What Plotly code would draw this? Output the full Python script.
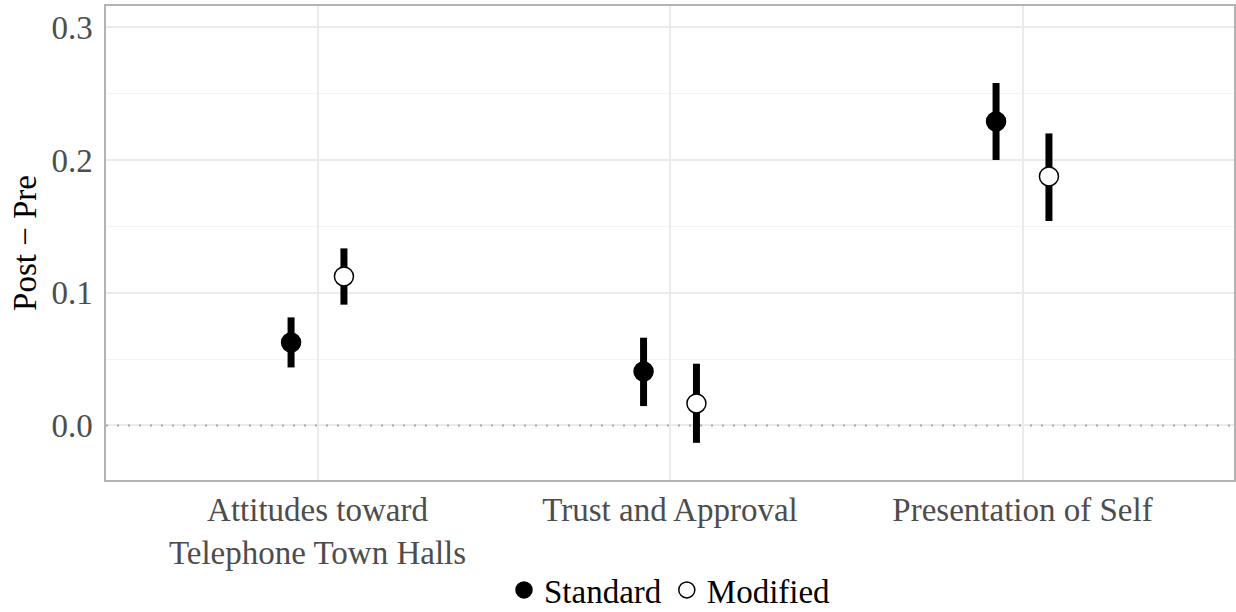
import plotly.graph_objects as go

categories = ["Attitudes toward<br>Telephone Town Halls", "Trust and Approval", "Presentation of Self"]
series_names = ["Standard", "Modified"]
standard_est = [0.0625, 0.0407, 0.229]
standard_lo = [0.0437, 0.0146, 0.200]
standard_hi = [0.0814, 0.0661, 0.258]
modified_est = [0.1123, 0.0166, 0.1876]
modified_lo = [0.0910, -0.0131, 0.154]
modified_hi = [0.1334, 0.0465, 0.220]
y_ticks = [0.0, 0.1, 0.2, 0.3]
x_range = [0.4, 3.6]

FONT = "Liberation Serif, Times New Roman, serif"
FS = 33
pos = list(range(1, len(categories) + 1))
dodge = 0.075

fig = go.Figure()
# dotted reference line at zero (drawn first, beneath the points)
fig.add_trace(go.Scatter(
    x=x_range, y=[0, 0], mode="lines", showlegend=False, hoverinfo="skip",
    line=dict(color="#a8a8a8", width=2, dash="2px,9px"),
))
specs = [
    (series_names[0], standard_est, standard_lo, standard_hi, -dodge, "black"),
    (series_names[1], modified_est, modified_lo, modified_hi, dodge, "white"),
]
for name, est, lo, hi, off, fill in specs:
    fig.add_trace(go.Scatter(
        x=[p + off for p in pos], y=est, mode="markers", name=name,
        marker=dict(size=19, color=fill, line=dict(color="black", width=1.5)),
        error_y=dict(type="data", symmetric=False,
                     array=[h - e for h, e in zip(hi, est)],
                     arrayminus=[e - l for e, l in zip(est, lo)],
                     thickness=7, width=0, color="black"),
    ))

fig.update_layout(
    width=1236, height=612,
    margin=dict(l=106, r=2, t=6, b=132, autoexpand=False),
    plot_bgcolor="white", paper_bgcolor="white",
    font=dict(family=FONT, size=FS, color="black"),
    showlegend=True,
    legend=dict(orientation="h", x=0.5, xanchor="center", y=-0.232, yanchor="middle",
                font=dict(size=FS, color="black"), itemwidth=30, tracegroupgap=0),
    xaxis=dict(range=x_range, tickvals=pos, ticktext=categories, automargin=False,
               showgrid=True, gridcolor="#ebebeb", gridwidth=2,
               tickfont=dict(size=FS, color="#4d4d4d"), ticks="", zeroline=False,
               showline=True, linecolor="#b3b3b3", linewidth=1.5, mirror=True),
    yaxis=dict(range=[-0.0411, 0.316], tickvals=y_ticks, tickformat=".1f", automargin=False,
               showgrid=True, gridcolor="#ebebeb", gridwidth=2,
               minor=dict(dtick=0.05, tick0=0, showgrid=True, gridcolor="#f3f3f3", gridwidth=1),
               tickfont=dict(size=FS, color="#4d4d4d"), ticks="", zeroline=False,
               ticklabelstandoff=5,
               showline=True, linecolor="#b3b3b3", linewidth=1.5, mirror=True,
               title=dict(text="Post − Pre", font=dict(size=FS, color="black"), standoff=5)),
)

fig.write_html("out.html", post_script="document.body.style.margin='0';",
               config={"displayModeBar": False})
